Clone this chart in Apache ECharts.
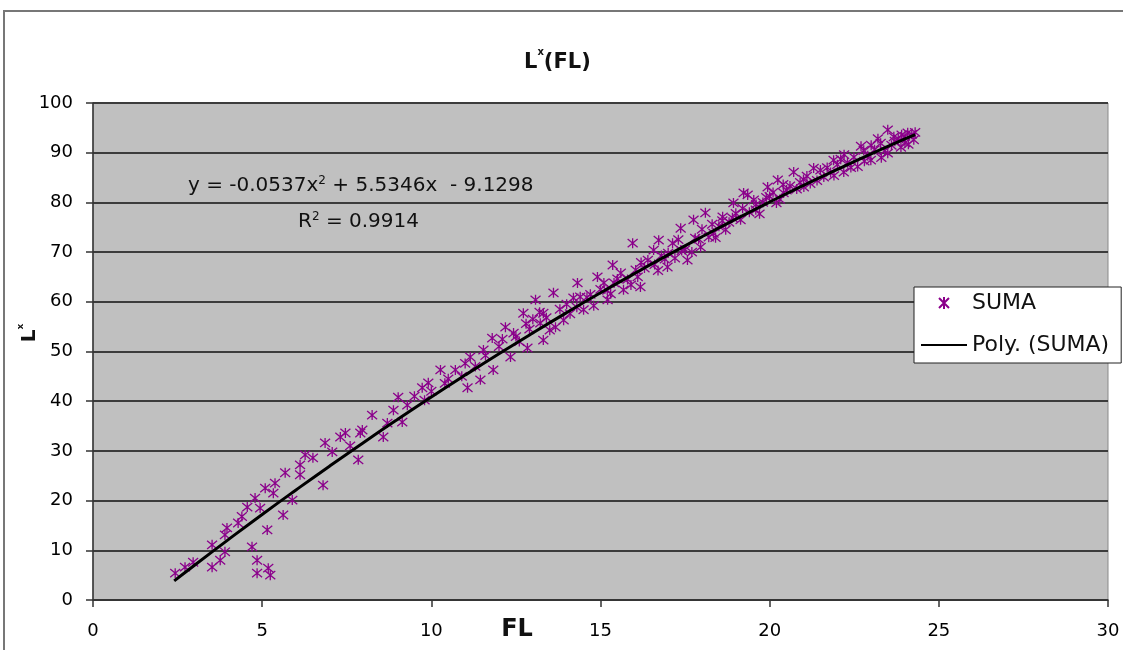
<!DOCTYPE html>
<html>
<head>
<meta charset="utf-8">
<script src="https://cdn.jsdelivr.net/npm/echarts@6/dist/echarts.min.js"></script>
<style>html,body{margin:0;padding:0;background:#fff;}#c{width:1123px;height:650px;}</style>
</head>
<body>
<div id="c"></div>
<script>
// Data
const titleText = '{a|L}{s|x}{a|(FL)}';
const yNameText = '{a|L}{s|x}';
const xNameText = 'FL';
const xTicks = [0, 5, 10, 15, 20, 25, 30];
const yTicks = [0, 10, 20, 30, 40, 50, 60, 70, 80, 90, 100];
const seriesNames = ['SUMA', 'Poly. (SUMA)'];
const equationText = 'y = -0.0537x{s|2} + 5.5346x  - 9.1298';
const r2Text = 'R{s|2} = 0.9914';

// SUMA scatter points [FL, L*]
const sumaPoints = [
  [2.43,5.4],[2.72,6.6],[2.96,7.6],[3.52,6.6],[3.76,8.0],[3.52,11.1],[3.9,9.7],[3.96,14.5],[4.29,15.5],[3.9,13.1],
  [4.56,18.7],[4.79,20.5],[4.94,18.5],[5.09,22.5],[5.38,23.5],[5.33,21.5],[4.7,10.7],[4.85,8.0],[4.85,5.4],[5.18,6.4],
  [5.24,5.0],[5.15,14.1],[5.62,17.1],[5.89,20.1],[5.68,25.6],[6.12,27.2],[6.27,29.2],[6.12,25.2],[6.8,23.1],[6.86,31.6],
  [7.07,29.8],[7.31,32.8],[7.84,28.2],[7.9,33.6],
  [7.46,33.6],[7.96,34.2],[8.25,37.2],[8.58,32.8],[8.88,38.2],[9.02,40.8],[9.14,35.8],[9.29,39.2],[9.73,42.7],[9.91,43.7],
  [10.27,46.3],[10.71,46.3],[11.07,42.7],[11.15,48.9],[11.45,44.3],[11.54,50.3],[11.8,52.7],[11.83,46.3],[12.19,54.9],[12.34,48.9],
  [12.43,53.7],[12.72,57.7],[12.84,50.7],[13.08,60.4],[13.22,55.7],[13.31,52.3],[13.61,61.8],[13.67,54.9],
  [10.0,42.0],[10.5,44.5],[11.3,47.0],[12.0,51.0],[12.6,52.0],[13.0,56.5],[9.5,41.0],[10.9,45.0],
  [13.31,57.7],[13.91,56.3],[14.32,63.8],[14.5,58.4],[14.91,65.0],[15.21,60.4],[15.36,67.4],[15.68,62.4],[15.95,71.8],[16.04,66.4],
  [16.18,63.0],[16.57,70.4],[16.72,72.4],[16.98,67.0],[17.13,71.8],[17.37,74.8],[17.57,68.4],[17.75,76.5],[17.96,71.0],[18.1,77.9],
  [18.34,73.8],[18.61,77.1],[18.93,79.9],[19.14,76.5],[19.35,81.5],[19.59,78.5],
  [14.0,59.5],[14.2,60.8],[14.7,61.5],[15.0,62.5],[15.4,63.8],[15.8,64.5],[16.3,66.8],[16.6,67.5],[17.0,69.8],[17.5,70.5],
  [17.8,72.8],[18.2,73.0],[18.5,75.2],[18.8,76.0],[19.0,77.8],[19.4,78.0],[14.4,61.0],[15.6,65.8],[16.9,68.6],[18.0,74.6],
  [19.23,81.9],[19.53,80.5],[19.94,83.1],[20.24,84.5],[20.41,81.9],[20.71,86.1],[21.01,83.1],[21.3,86.9],[21.6,85.1],[21.89,88.5],
  [22.19,86.1],[22.49,89.1],[22.78,90.5],[22.99,88.5],[23.28,91.9],[23.49,89.9],[23.67,93.2],[23.88,91.1],[24.08,94.0],[24.26,92.6],
  [23.49,94.6],
  [19.8,80.0],[20.0,81.2],[20.2,79.9],[20.5,82.5],[20.9,84.0],[21.2,83.8],[21.5,86.5],[21.8,86.0],[22.0,87.6],[22.3,88.0],
  [22.6,87.2],[22.9,89.4],[23.1,90.6],[23.3,89.0],[23.6,91.5],[23.8,92.8],[24.0,92.0],[24.2,93.7],[23.9,93.6],[23.2,92.8],
  [22.7,91.3],[24.1,91.7],[21.1,85.3],[20.6,83.3],
  [12.1,52.5],[12.5,53.0],[12.9,54.5],[13.4,56.8],[13.5,54.3],[13.8,58.5],[14.1,57.6],[14.6,60.9],[14.8,59.2],[15.1,63.8],
  [15.3,61.6],[15.5,64.6],[15.9,63.4],[16.1,65.0],[16.4,68.4],[16.7,66.3],[16.8,69.3],[17.2,68.8],[17.4,70.3],[17.7,70.0],
  [17.9,72.6],[18.3,75.6],[18.4,72.9],[18.7,74.5],[18.9,76.9],[19.2,78.8],[19.6,79.6],[19.7,77.7],[20.1,82.0],[20.3,80.6],
  [20.8,82.7],[21.0,84.6],[21.4,84.4],[21.7,87.0],[21.9,85.4],[22.1,88.7],[22.4,87.0],[22.8,88.3],[23.0,91.5],[23.4,90.4],
  [23.7,92.3],[24.0,93.3],[24.3,94.1],[22.2,89.6],[20.4,83.6],[19.9,81.0],[18.6,76.3],[17.3,72.5],[16.2,67.9],[15.2,62.3],
  [14.3,58.9],[13.2,57.9],[12.8,55.6],[11.6,49.2],[11.0,47.6],[10.4,43.6],[9.8,40.2],[8.7,35.6],[7.6,31.0],[6.5,28.6],[4.4,16.8]
];

// Polynomial trend line points
const trendFL = [2.4,3,4,5,6,7,8,9,10,11,12,13,14,15,16,17,18,19,20,21,22,23,24,24.3];
const trendL  = [3.84,6.99,12.15,17.21,22.14,26.98,31.71,36.33,40.85,45.25,49.55,53.74,57.83,61.81,65.68,69.44,73.09,76.64,80.08,83.42,86.64,89.76,92.77,93.65];

const chart = echarts.init(document.getElementById('c'));
const FONT = 'DejaVu Sans';
const asterisk = 'path://M0,0L10,10M10,0L0,10M5,-1L5,11';

chart.setOption({
  backgroundColor: '#ffffff',
  animation: false,
  title: {
    text: titleText,
    left: 519, top: 42,
    textStyle: {
      rich: {
        a: { fontFamily: FONT, fontSize: 21, fontWeight: 'bold', color: '#111', lineHeight: 26, verticalAlign: 'bottom' },
        s: { fontFamily: FONT, fontSize: 10, fontWeight: 'bold', color: '#111', lineHeight: 10, verticalAlign: 'top' }
      }
    }
  },
  legend: {
    orient: 'vertical',
    left: 914, top: 287,
    padding: [5, 12, 7, 6],
    itemGap: 20,
    itemWidth: 46, itemHeight: 12,
    backgroundColor: '#ffffff',
    borderColor: '#222',
    borderWidth: 1,
    textStyle: { fontFamily: FONT, fontSize: 22, color: '#111' },
    data: [
      { name: seriesNames[0] },
      { name: seriesNames[1], itemStyle: { color: 'rgba(0,0,0,0)', borderWidth: 0, opacity: 0 } }
    ]
  },
  grid: {
    left: 93, right: 15, top: 103, bottom: 50,
    show: true, backgroundColor: '#C0C0C0', borderColor: '#8a8a8a', borderWidth: 1
  },
  xAxis: {
    type: 'value', min: xTicks[0], max: xTicks[xTicks.length - 1], interval: 5,
    axisLine: { show: true, lineStyle: { color: '#333', width: 1.5 } },
    axisTick: { show: true, length: 7, lineStyle: { color: '#333', width: 1.5 } },
    axisLabel: { margin: 22, fontFamily: FONT, fontSize: 18, color: '#000' },
    splitLine: { show: false }
  },
  yAxis: {
    type: 'value', min: yTicks[0], max: yTicks[yTicks.length - 1], interval: 10,
    axisLine: { show: true, lineStyle: { color: '#333', width: 1.5 } },
    axisTick: { show: true, length: 7, lineStyle: { color: '#333', width: 1.5 } },
    axisLabel: { margin: 20, fontFamily: FONT, fontSize: 18, color: '#000' },
    splitLine: { show: true, lineStyle: { color: '#3c3c3c', width: 2 } }
  },
  graphic: [
    { type: 'rect', shape: { x: 4, y: 11, width: 1200, height: 700 }, style: { fill: 'none', stroke: '#777', lineWidth: 2 }, z: -10, silent: true },
    { type: 'text', x: 517, y: 630, style: { text: xNameText, font: 'bold 24px ' + FONT, fill: '#111', align: 'center', verticalAlign: 'middle' }, z: 10 },
    { type: 'text', x: 28, y: 333, rotation: Math.PI / 2,
      style: { text: yNameText, align: 'center', verticalAlign: 'middle',
        rich: {
          a: { fontFamily: FONT, fontSize: 20, fontWeight: 'bold', fill: '#111', lineHeight: 24, verticalAlign: 'bottom' },
          s: { fontFamily: FONT, fontSize: 9, fontWeight: 'bold', fill: '#111', lineHeight: 9, verticalAlign: 'top' }
        } }, z: 10 },
    { type: 'text', x: 188, y: 186,
      style: { text: equationText, font: '20px ' + FONT, fill: '#111', align: 'left', verticalAlign: 'middle',
        rich: { s: { fontFamily: FONT, fontSize: 12, fill: '#111', verticalAlign: 'top', padding: [0, 0, 10, 0] } } }, z: 10 },
    { type: 'text', x: 298, y: 222,
      style: { text: r2Text, font: '20px ' + FONT, fill: '#111', align: 'left', verticalAlign: 'middle',
        rich: { s: { fontFamily: FONT, fontSize: 12, fill: '#111', verticalAlign: 'top', padding: [0, 0, 10, 0] } } }, z: 10 }
  ],
  series: [
    {
      name: seriesNames[0], type: 'scatter',
      symbol: asterisk, symbolSize: 10,
      itemStyle: { color: 'rgba(0,0,0,0)', borderColor: '#8B008B', borderWidth: 1.3, opacity: 1 },
      data: sumaPoints, z: 3
    },
    {
      name: seriesNames[1], type: 'line', symbol: 'none', smooth: true,
      lineStyle: { color: '#000', width: 3 },
      itemStyle: { color: 'rgba(0,0,0,0)' },
      data: trendFL.map((x, i) => [x, trendL[i]]), z: 4
    }
  ]
});
</script>
</body>
</html>
